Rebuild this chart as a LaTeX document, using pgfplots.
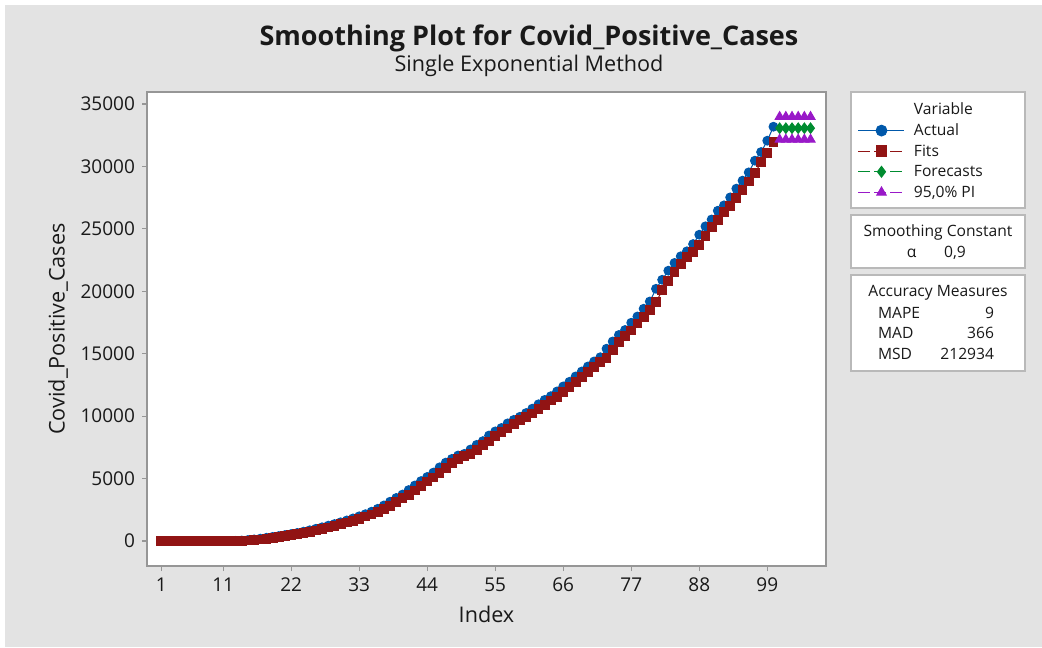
\documentclass[border=0pt]{standalone}
\usepackage{fontspec}
\setmainfont{Open Sans}
\usepackage{pgfplots}
\usepackage{pgfplotstable}
\pgfplotsset{compat=1.18}

\definecolor{bggray}{RGB}{227,227,227}
\definecolor{axgray}{RGB}{150,150,150}
\definecolor{boxgray}{RGB}{185,185,185}
\definecolor{actblue}{RGB}{0,88,170}
\definecolor{fitred}{RGB}{145,20,20}
\definecolor{fcgreen}{RGB}{0,140,48}
\definecolor{pipurple}{RGB}{153,25,200}
\definecolor{txt}{RGB}{25,25,25}

% Actual and fitted values (alpha = 0.9)
\pgfplotstableread{
idx actual fits
1 0 0
2 0 0
3 0 0
4 0 0
5 0 0
6 0 0
7 0 0
8 0 0
9 0 0
10 0 0
11 0 0
12 0 0
13 10 0
14 40 9
15 80 37
16 130 76
17 190 125
18 260 183
19 330 252
20 400 322
21 480 392
22 560 471
23 650 551
24 750 640
25 860 739
26 980 848
27 1100 967
28 1230 1087
29 1360 1216
30 1500 1346
31 1650 1485
32 1810 1634
33 1980 1792
34 2150 1961
35 2350 2131
36 2580 2328
37 2850 2555
38 3150 2821
39 3450 3117
40 3720 3417
41 4080 3690
42 4450 4041
43 4800 4409
44 5130 4761
45 5480 5093
46 5900 5441
47 6280 5854
48 6580 6237
49 6850 6546
50 6980 6820
51 7330 6964
52 7700 7293
53 8000 7659
54 8450 7966
55 8780 8402
56 9050 8742
57 9420 9019
58 9700 9380
59 9950 9668
60 10250 9922
61 10600 10217
62 10950 10562
63 11300 10911
64 11600 11261
65 11980 11566
66 12380 11939
67 12750 12336
68 13180 12709
69 13580 13133
70 13980 13535
71 14380 13936
72 14720 14336
73 15400 14682
74 15980 15328
75 16500 15915
76 16900 16442
77 17480 16854
78 17980 17417
79 18600 17924
80 19180 18532
81 20200 19115
82 20920 20092
83 21650 20837
84 22270 21569
85 22800 22200
86 23200 22740
87 23780 23154
88 24530 23717
89 25200 24449
90 25750 25125
91 26450 25688
92 26880 26374
93 27520 26829
94 28220 27451
95 28860 28143
96 29520 28788
97 30460 29447
98 31150 30359
99 32060 31071
100 33180 31961
}\smoothdata

% Forecasts with 95% prediction interval
\pgfplotstableread{
idx fc lo hi
101 33060 32150 33970
102 33060 32150 33970
103 33060 32150 33970
104 33060 32150 33970
105 33060 32150 33970
106 33060 32150 33970
}\fcdata

\begin{document}
\begin{tikzpicture}[x=1pt,y=1pt]
\path[use as bounding box] (0,0) rectangle (521,323.5);
\fill[white] (0,0) rectangle (521,323.5);
\fill[bggray] (2.5,0) rectangle (521,321);

% side boxes
\filldraw[fill=white, draw=boxgray, line width=0.8pt] (425.5,219.6) rectangle (512.5,277.5);
\filldraw[fill=white, draw=boxgray, line width=0.8pt] (425.5,189.4) rectangle (512.5,216);
\filldraw[fill=white, draw=boxgray, line width=0.8pt] (425.5,138) rectangle (512.5,186);

\node[font=\fontsize{13.5}{16}\selectfont\bfseries, text=txt] at (264.5,304.5) {Smoothing Plot for Covid\_Positive\_Cases};
\node[font=\fontsize{10.8}{12}\selectfont, text=txt] at (264.5,290.5) {Single Exponential Method};

\begin{axis}[
    at={(73.5pt,40.5pt)}, anchor=south west,
    scale only axis,
    width=339.5pt, height=237pt,
    xmin=-1.32, xmax=108.5,
    ymin=-2000, ymax=35960,
    axis background/.style={fill=white},
    axis line style={draw=axgray, line width=0.8pt},
    xtick={1,11,22,33,44,55,66,77,88,99},
    ytick={0,5000,...,35000},
    scaled y ticks=false,
    tick pos=left,
    tick align=outside,
    major tick length=2.5pt,
    tick style={draw=axgray, line width=0.6pt},
    /pgf/number format/assume math mode=true,
    /pgf/number format/set thousands separator={},
    ticklabel style={font=\fontsize{9.5}{11}\selectfont, text=txt},
    xlabel={Index},
    ylabel={Covid\_Positive\_Cases},
    label style={font=\fontsize{10.8}{12}\selectfont, text=txt},
    xlabel style={at={(axis description cs:0.5,-0.103)}, anchor=center},
    ylabel style={at={(axis description cs:-0.131,0.5)}, anchor=center},
    legend image code/.code={\draw[mark repeat=2,mark phase=2,#1] plot coordinates {(0pt,0pt)(11.5pt,0pt)(23pt,0pt)};},
    every legend image post/.style={mark size=2.7pt},
    legend cell align=left,
    legend style={at={(1.0471,0.981)}, anchor=north west, draw=none, fill=none,
        inner sep=0pt, outer sep=0pt, row sep=1.3pt, column sep=4.5pt,
        font=\fontsize{7.8}{9}\selectfont,
        nodes={inner sep=0pt, text height=7pt, text depth=2pt, text=txt}},
]
\addlegendimage{empty legend}
\addlegendentry{Variable}
\addplot[actblue, line width=0.5pt, mark=*, mark size=2.2pt, mark options={solid, fill=actblue}]
    table[x=idx, y=actual] {\smoothdata};
\addlegendentry{Actual}
\addplot[fitred, line width=0.5pt, dash pattern=on 6pt off 2pt, mark=square*, mark size=2.2pt, mark options={solid, fill=fitred}]
    table[x=idx, y=fits] {\smoothdata};
\addlegendentry{Fits}
\addplot[fcgreen, line width=0.5pt, dash pattern=on 6pt off 2pt, mark=diamond*, mark size=2.6pt, mark options={solid, fill=fcgreen}]
    table[x=idx, y=fc] {\fcdata};
\addlegendentry{Forecasts}
\addplot[pipurple, line width=0.5pt, dash pattern=on 6pt off 2pt, mark=triangle*, mark size=2.6pt, mark options={solid, fill=pipurple}]
    table[x=idx, y=hi] {\fcdata};
\addlegendentry{95,0\% PI}
\addplot[pipurple, line width=0.5pt, dash pattern=on 6pt off 2pt, mark=triangle*, mark size=2.6pt, mark options={solid, fill=pipurple}, forget plot]
    table[x=idx, y=lo] {\fcdata};
\end{axis}

% smoothing constant and accuracy measures
\begin{scope}[font=\fontsize{7.8}{9}\selectfont, text=txt]
\node at (469,207.5) {Smoothing Constant};
\node at (455.8,197) {α};
\node at (477.5,197) {0,9};
\node at (469,177) {Accuracy Measures};
\node[anchor=west] at (435.5,167) {MAPE};
\node[anchor=west] at (435.5,157) {MAD};
\node[anchor=west] at (435.5,146.5) {MSD};
\node[anchor=east] at (500.5,167) {9};
\node[anchor=east] at (500.5,157) {366};
\node[anchor=east] at (500.5,146.5) {212934};
\end{scope}
\end{tikzpicture}
\end{document}
